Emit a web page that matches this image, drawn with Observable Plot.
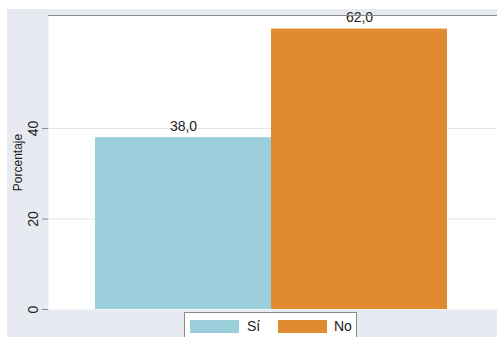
<!DOCTYPE html>
<html>
<head>
<meta charset="utf-8">
<script src="https://cdn.jsdelivr.net/npm/d3@7"></script>
<script src="https://cdn.jsdelivr.net/npm/@observablehq/plot@0.6"></script>
<style>
  html, body { margin: 0; padding: 0; background: white; }
  body { width: 497px; height: 337px; position: relative; overflow: hidden; font-family: "Liberation Sans", Arial, sans-serif; }
  #bg { position: absolute; left: 7px; top: 9px; width: 490px; height: 328px; background: #e7eaf1; }
  #chart { position: absolute; left: 0; top: 0; }
  #legend { position: absolute; left: 184px; top: 312px; width: 171px; height: 30px; background: white; border: 1px solid #8a8a8a; }
  .sw { position: absolute; top: 7px; width: 49px; height: 13px; }
  .lab { position: absolute; top: 5px; font-size: 14px; color: #222; }
</style>
</head>
<body>
<div id="bg"></div>
<div id="chart"></div>
<div id="legend"></div>
<script>
const categories = ["Sí", "No"];
const values = [38.0, 62.0];
const colors = ["#9bcfdc", "#e08b2f"];
const yTicks = [0, 20, 40];
const yLabel = "Porcentaje";

const data = categories.map((c, i) => ({cat: c, val: values[i], color: colors[i]}));

const chart = Plot.plot({
  width: 497,
  height: 337,
  marginLeft: 48,
  marginTop: 15,
  marginRight: 0,
  marginBottom: 28,
  style: {background: "transparent", fontFamily: "Liberation Sans, Arial, sans-serif", fontSize: "13px", color: "#222"},
  x: {domain: categories, paddingInner: 0, paddingOuter: 0.275, align: 0.48, axis: null},
  y: {domain: [0, 65]},
  marks: [
    Plot.frame({fill: "white", stroke: null}),
    Plot.gridY(yTicks.slice(1), {stroke: "#e4e4e4", strokeOpacity: 1}),
    Plot.barY(data, {x: "cat", y: "val", fill: "color"}),
    Plot.text(data, {x: "cat", y: "val", text: d => d.val.toFixed(1).replace(".", ","), dy: -7, lineAnchor: "bottom", fontSize: 14, fill: "#222"}),
    Plot.ruleY([65], {stroke: "#8a8a8a"}),
    Plot.ruleX([0], {frameAnchor: "left", stroke: "#8a8a8a"}),
    Plot.axisY({ticks: yTicks, tickSize: 6, tickRotate: -90, tickPadding: 5, stroke: "#8a8a8a", fontSize: 14, label: null, tickFormat: d => String(d)}),
    Plot.text([yLabel], {frameAnchor: "left", textAnchor: "middle", text: d => d, rotate: -90, dx: -30, fontSize: 12, fill: "#222"})
  ]
});
document.getElementById("chart").appendChild(chart);

const legend = document.getElementById("legend");
const xs = [[5, 62], [93, 149]];
categories.forEach((c, i) => {
  const sw = document.createElement("div");
  sw.className = "sw";
  sw.style.left = xs[i][0] + "px";
  sw.style.background = colors[i];
  legend.appendChild(sw);
  const t = document.createElement("div");
  t.className = "lab";
  t.style.left = xs[i][1] + "px";
  t.textContent = c;
  legend.appendChild(t);
});
</script>
</body>
</html>
